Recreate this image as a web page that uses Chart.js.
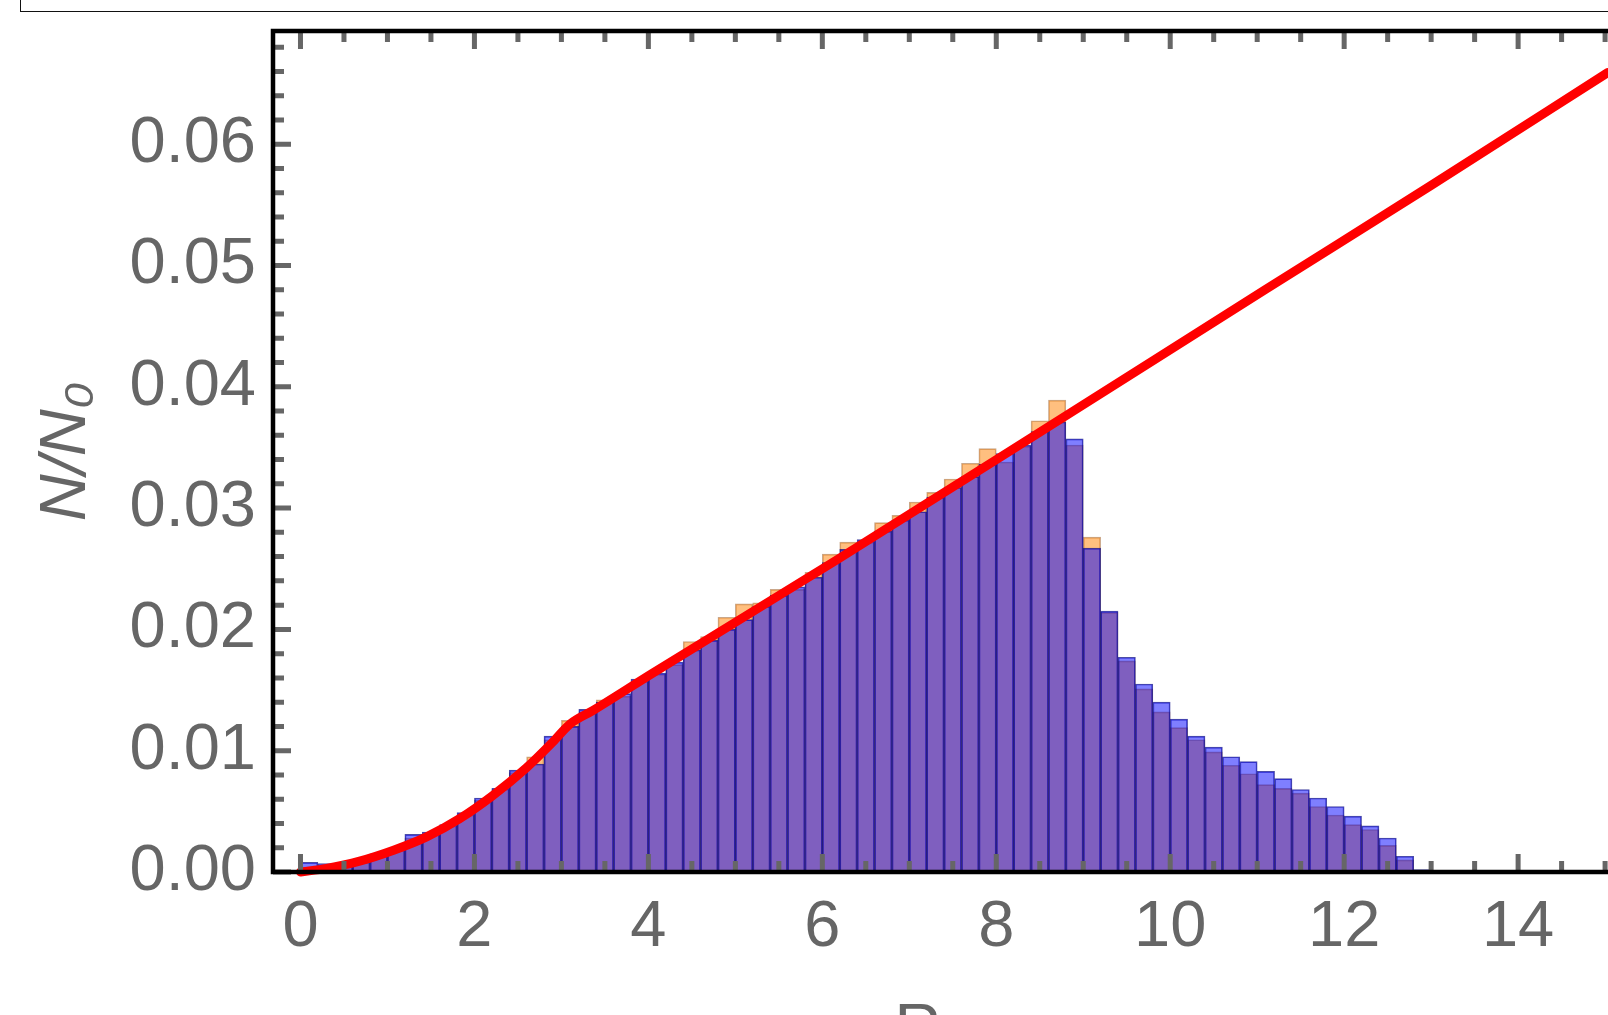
<!DOCTYPE html>
<html lang="en">
<head>
  <meta charset="UTF-8" />
  <title>N/N0 histogram</title>
  <script src="https://cdn.jsdelivr.net/npm/chart.js"></script>
  <style>
    * { margin: 0; padding: 0; box-sizing: border-box; }
    html, body { width: 100%; height: 100%; background: #fff; overflow: hidden; }
    #chart { position: absolute; left: 0; top: 0; }
    /* edge of the panel above the plot, only its lower border shows */
    .top-box { position: absolute; left: 20px; top: -21px; width: 1700px; height: 33px; border: 1.5px solid #111; }
  </style>
</head>
<body>
  <div class="top-box"></div>
  <canvas id="chart" width="1836" height="1080"></canvas>

  <script>
    // bin left edges (bin width 0.2)
    const binStart = [
      0.0, 0.2, 0.4, 0.6, 0.8, 1.0, 1.2, 1.4, 1.6, 1.8,
      2.0, 2.2, 2.4, 2.6, 2.8, 3.0, 3.2, 3.4, 3.6, 3.8,
      4.0, 4.2, 4.4, 4.6, 4.8, 5.0, 5.2, 5.4, 5.6, 5.8,
      6.0, 6.2, 6.4, 6.6, 6.8, 7.0, 7.2, 7.4, 7.6, 7.8,
      8.0, 8.2, 8.4, 8.6, 8.8, 9.0, 9.2, 9.4, 9.6, 9.8,
      10.0, 10.2, 10.4, 10.6, 10.8, 11.0, 11.2, 11.4, 11.6, 11.8,
      12.0, 12.2, 12.4, 12.6, 12.8
    ];
    const binWidth = 0.2;

    // blue histogram
    const blueVals = [
      0.0008, 0.0007, 0.0006, 0.0009, 0.0015, 0.0019, 0.0031, 0.0033, 0.0039, 0.0049,
      0.0061, 0.0069, 0.0084, 0.0089, 0.0112, 0.0120, 0.0134, 0.0140, 0.0147, 0.0159,
      0.0164, 0.0173, 0.0183, 0.0191, 0.0200, 0.0208, 0.0219, 0.0228, 0.0235, 0.0243,
      0.0255, 0.0266, 0.0274, 0.0281, 0.0290, 0.0297, 0.0309, 0.0317, 0.0326, 0.0336,
      0.0345, 0.0352, 0.0363, 0.0371, 0.0357, 0.0267, 0.0215, 0.0177, 0.0155, 0.0140,
      0.0126, 0.0112, 0.0103, 0.0095, 0.0091, 0.0083, 0.0077, 0.0068, 0.0061, 0.0054,
      0.0046, 0.0038, 0.0028, 0.0013, 0.0002
    ];

    // orange histogram
    const orangeVals = [
      0.0004, 0.0005, 0.0005, 0.0008, 0.0013, 0.0018, 0.0028, 0.0031, 0.0038, 0.0047,
      0.0059, 0.0068, 0.0082, 0.0095, 0.0109, 0.0125, 0.0132, 0.0142, 0.0145, 0.0157,
      0.0163, 0.0171, 0.0190, 0.0194, 0.0210, 0.0221, 0.0222, 0.0233, 0.0233, 0.0247,
      0.0262, 0.0272, 0.0272, 0.0288, 0.0294, 0.0305, 0.0313, 0.0324, 0.0337, 0.0349,
      0.0338, 0.0351, 0.0372, 0.0389, 0.0352, 0.0276, 0.0214, 0.0174, 0.0151, 0.0132,
      0.0119, 0.0109, 0.0099, 0.0088, 0.0081, 0.0072, 0.0069, 0.0065, 0.0054, 0.0047,
      0.0039, 0.0035, 0.0022, 0.0010, 0.0000
    ];

    // red curve
    const curveX = [0, 0.3, 0.68, 1.07, 1.45, 1.83, 2.21, 2.6, 2.9, 3.1, 3.36, 4.05, 6.16, 8.6, 11.09, 13.0, 15.03];
    const curveY = [0.0000, 0.0003, 0.0009, 0.0018, 0.0029, 0.0044, 0.0063, 0.0086, 0.0107, 0.0122, 0.0133, 0.0164, 0.0257, 0.0367, 0.0480, 0.0566, 0.0659];

    const xTicks = [0, 2, 4, 6, 8, 10, 12, 14, 16];
    const yTicks = [0, 0.01, 0.02, 0.03, 0.04, 0.05, 0.06];

    const blueBars = binStart.map((b, i) => ({ x: b + binWidth / 2, y: blueVals[i] }));
    const orangeBars = binStart.map((b, i) => ({ x: b + binWidth / 2, y: orangeVals[i] }));
    const curve = curveX.map((x, i) => ({ x: x, y: curveY[i] }));

    Chart.defaults.font.family = "'Liberation Sans', Arial, sans-serif";

    // Mathematica style frame with inward ticks
    const framePlugin = {
      id: 'frame',
      afterDatasetsDraw(chart) {
        const { ctx, chartArea: a, scales: { x, y } } = chart;
        ctx.save();
        ctx.strokeStyle = '#666';
        ctx.lineWidth = 5;
        ctx.beginPath();
        for (let v = 0; v <= 17.5; v += 0.5) {
          const px = x.getPixelForValue(v);
          const len = v % 2 === 0 ? 18 : 11;
          ctx.moveTo(px, a.bottom); ctx.lineTo(px, a.bottom - len);
          ctx.moveTo(px, a.top); ctx.lineTo(px, a.top + len);
        }
        for (let i = 0; i <= 34; i++) {
          const py = y.getPixelForValue(i * 0.002);
          const len = i % 5 === 0 ? 18 : 11;
          ctx.moveTo(a.left, py); ctx.lineTo(a.left + len, py);
        }
        ctx.stroke();

        ctx.strokeStyle = '#000';
        ctx.lineWidth = 4.5;
        ctx.beginPath();
        ctx.moveTo(a.right, a.top);
        ctx.lineTo(a.left, a.top);
        ctx.lineTo(a.left, a.bottom);
        ctx.lineTo(a.right, a.bottom);
        ctx.stroke();
        ctx.restore();
      }
    };

    new Chart(document.getElementById('chart'), {
      type: 'bar',
      data: {
        datasets: [
          {
            type: 'line',
            label: 'fit',
            data: curve,
            borderColor: '#ff0000',
            borderWidth: 9,
            pointRadius: 0,
            cubicInterpolationMode: 'monotone',
            borderCapStyle: 'round',
            borderJoinStyle: 'round',
            clip: false,
            order: 0
          },
          {
            label: 'blue',
            data: blueBars,
            backgroundColor: 'rgba(0,0,255,0.5)',
            borderColor: 'rgba(0,0,128,0.7)',
            borderWidth: 1,
            order: 1
          },
          {
            label: 'orange',
            data: orangeBars,
            backgroundColor: 'rgba(255,128,0,0.5)',
            borderColor: 'rgba(150,80,20,0.5)',
            borderWidth: 1,
            order: 2
          }
        ]
      },
      options: {
        responsive: false,
        animation: false,
        devicePixelRatio: 1,
        layout: { padding: { top: 31, left: 0, right: 0, bottom: 0 } },
        datasets: {
          bar: { grouped: false, barPercentage: 1, categoryPercentage: 1 }
        },
        plugins: {
          legend: { display: false },
          tooltip: { enabled: false },
          title: {
            display: true,
            position: 'bottom',
            text: 'R',
            color: '#666',
            font: { size: 65, weight: 'normal' },
            padding: { top: 20, bottom: 10 }
          }
        },
        scales: {
          x: {
            type: 'linear',
            min: -0.316,
            max: 17.655,
            offset: false,
            grid: { display: false, drawTicks: false, offset: false },
            border: { display: false },
            afterBuildTicks: s => { s.ticks = xTicks.map(v => ({ value: v })); },
            ticks: { color: '#666', font: { size: 65 }, padding: 17, maxRotation: 0, autoSkip: false, callback: v => v },
            afterFit: s => { s.height = 100; s.paddingLeft = 0; s.paddingRight = 0; }
          },
          y: {
            min: 0,
            max: 0.06933,
            grid: { display: false, drawTicks: false },
            border: { display: false },
            afterBuildTicks: s => { s.ticks = yTicks.map(v => ({ value: v })); },
            ticks: { color: '#666', font: { size: 65 }, padding: 17, callback: v => v.toFixed(2) },
            title: {
              display: true,
              text: 'N/N₀',
              color: '#666',
              font: { size: 65, style: 'italic' },
              padding: { top: 28, bottom: 0 }
            },
            afterFit: s => { s.width = 273; s.paddingTop = 0; s.paddingBottom = 0; }
          }
        }
      },
      plugins: [framePlugin]
    });
  </script>
</body>
</html>
